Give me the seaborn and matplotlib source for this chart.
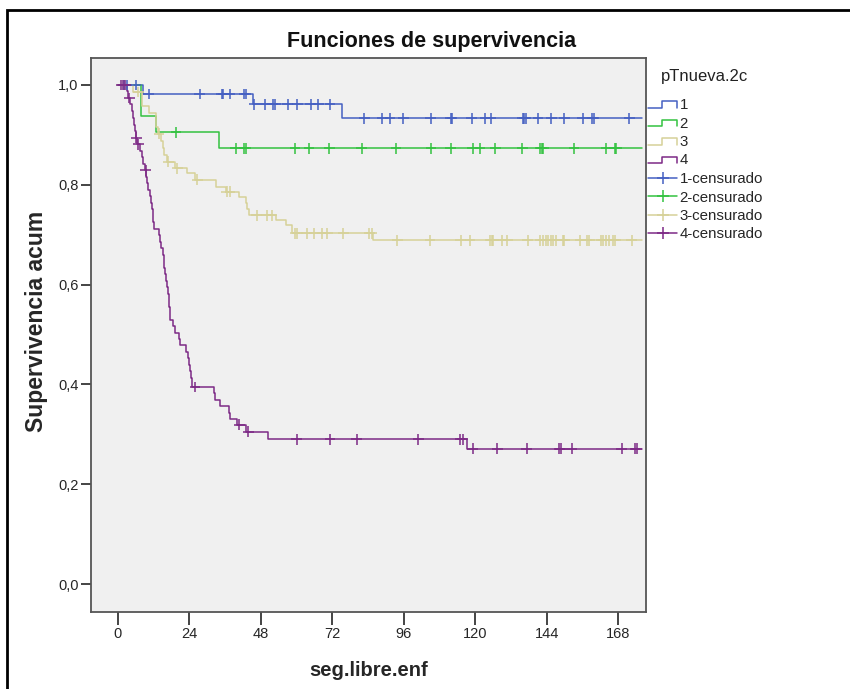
import matplotlib
matplotlib.use('Agg')
import matplotlib.pyplot as plt
import numpy as np
import pandas as pd
import seaborn as sns
from matplotlib.lines import Line2D
from matplotlib.legend_handler import HandlerBase
from matplotlib.ticker import FuncFormatter

sns.set_theme(style='white')
plt.rcParams['font.family'] = ['Liberation Sans', 'DejaVu Sans']

END_T = 176.0
groups = ['1', '2', '3', '4']
colors = {'1': '#4560c2', '2': '#33c240', '3': '#d6d198', '4': '#7d2a86'}

# event times and survival after each step
t1 = [8.3, 45.5, 75.2]
s1 = [0.982, 0.961, 0.933]
c1 = [2, 3, 6, 10.3, 27.5, 34.8, 35.4, 37.6, 42.3, 43, 45.8, 49.4, 52, 52.8, 57, 60.2,
      64.7, 67.3, 71.2, 82.7, 88.8, 91.4, 95.9, 105.1, 111.8, 112.2, 118.8, 123.4, 125.3,
      136, 136.5, 137.1, 141.1, 145.6, 150, 156.1, 159.3, 159.8, 171.8]

t2 = [7.8, 12.8, 34.1]
s2 = [0.937, 0.905, 0.873]
c2 = [19.5, 39.5, 42.3, 43, 59.5, 64.2, 71, 81.9, 93.4, 105.2, 111.8, 119.2, 121.6, 126.8,
      135.9, 141.9, 142.3, 142.9, 153.2, 164, 166.9, 167.4]

t3 = [5.0, 8.0, 10.5, 12.8, 13.5, 14.5, 15.0, 15.5, 16.3, 19.2, 23.2, 26.0, 32.8, 36.2,
      40.7, 42.9, 43.5, 44.0, 53.0, 56.4, 58.6, 85.8]
s3 = [0.986, 0.958, 0.944, 0.916, 0.902, 0.888, 0.874, 0.860, 0.846, 0.833, 0.823, 0.810,
      0.796, 0.786, 0.776, 0.763, 0.751, 0.739, 0.729, 0.719, 0.703, 0.689]
c3 = [6.8, 13.8, 16.9, 19.9, 26.7, 36.5, 37.6, 46.6, 50, 51.6, 59.5, 60.2, 63.4, 65.9, 68.6,
      70.3, 75.7, 84.4, 85.2, 93.9, 104.8, 115.1, 118.3, 125, 125.6, 126.1, 129.1, 130.8,
      137.6, 141.8, 142.9, 143.7, 144.6, 145.4, 146.3, 147.2, 149.4, 149.9, 155.2, 157.5,
      158.3, 162.3, 163.1, 164, 165.1, 166.4, 167.1, 172.6]

t4 = [3.0, 3.5, 4.2, 4.6, 5.0, 5.3, 5.6, 5.9, 6.5, 7.5, 8.0, 8.5, 9.0, 9.4, 9.8, 10.2, 10.6,
      11.0, 11.3, 11.6, 11.9, 12.2, 13.8, 14.2, 14.5, 15.0, 15.3, 15.6, 15.9, 16.2, 16.5,
      16.8, 17.0, 17.2, 17.4, 17.6, 18.6, 19.0, 20.6, 20.8, 23.0, 23.4, 23.8, 24.2, 24.5,
      25.0, 32.4, 32.6, 34.3, 37.4, 37.6, 39.9, 43.0, 50.3, 117.2]
s4 = [0.987, 0.974, 0.961, 0.947, 0.934, 0.920, 0.907, 0.894, 0.881, 0.868, 0.855, 0.842,
      0.829, 0.816, 0.803, 0.790, 0.777, 0.764, 0.751, 0.738, 0.725, 0.712, 0.699, 0.686,
      0.673, 0.660, 0.647, 0.634, 0.621, 0.608, 0.595, 0.582, 0.569, 0.556, 0.543, 0.530,
      0.517, 0.504, 0.491, 0.478, 0.465, 0.452, 0.439, 0.426, 0.413, 0.395, 0.382, 0.369,
      0.357, 0.343, 0.330, 0.319, 0.305, 0.290, 0.271]
c4 = [1.0, 1.8, 2.5, 3.8, 6.2, 6.8, 9.3, 25.9, 40.7, 43.8, 60, 71.2, 80.2, 100.9, 114.9,
      115.8, 119.2, 127.5, 137.3, 148.3, 148.8, 152.4, 169.2, 173.7, 174.3]

events = {'1': (t1, s1), '2': (t2, s2), '3': (t3, s3), '4': (t4, s4)}
censors = {'1': c1, '2': c2, '3': c3, '4': c4}

curve_rows, cens_rows = [], []
for g in groups:
    t, s = events[g]
    curve_rows.append((g, 0.0, 1.0))
    for ti, si in zip(t, s):
        curve_rows.append((g, ti, si))
    curve_rows.append((g, END_T, s[-1]))
    tt = np.array(t)
    ss = np.array(s)
    for c in censors[g]:
        k = np.searchsorted(tt, c, side='right')
        cens_rows.append((g, c, 1.0 if k == 0 else ss[k - 1]))
curves = pd.DataFrame(curve_rows, columns=['grupo', 'tiempo', 'surv'])
cens = pd.DataFrame(cens_rows, columns=['grupo', 'tiempo', 'surv'])

fig = plt.figure(figsize=(8.5, 6.89), dpi=100)
ax = fig.add_axes([91 / 850, 1 - 612 / 689, 555 / 850, 554 / 689])
ax.set_facecolor('#f0f0f0')

sns.lineplot(data=curves, x='tiempo', y='surv', hue='grupo', palette=colors,
             estimator=None, sort=False, drawstyle='steps-post', linewidth=1.1,
             legend=False, ax=ax)
sns.scatterplot(data=cens, x='tiempo', y='surv', hue='grupo', palette=colors,
                marker='+', s=60, linewidth=1.1, legend=False, ax=ax, zorder=3)

ax.set_xlim(-9.07, 177.4)
ax.set_ylim(-0.056, 1.054)
ax.set_xticks(np.arange(0, 169, 24))
ax.set_yticks([0.0, 0.2, 0.4, 0.6, 0.8, 1.0])
ax.yaxis.set_major_formatter(FuncFormatter(lambda v, p: f'{v:.1f}'.replace('.', ',')))
ax.tick_params(axis='x', length=9, width=1.4, color='#444444', pad=2, labelsize=10.5,
               bottom=True)
ax.tick_params(axis='y', length=7, width=1.4, color='#444444', pad=2, labelsize=10.5,
               left=True)
for sp in ax.spines.values():
    sp.set_color('#555555')
    sp.set_linewidth(1.3)
ax.set_xlabel('seg.libre.enf', fontsize=14.5, fontweight='bold', labelpad=14)
ax.set_ylabel('Supervivencia acum', fontsize=16.5, fontweight='bold')
ax.yaxis.set_label_coords(-0.078, 0.525)
fig.text(432 / 850, 1 - 41 / 689, 'Funciones de supervivencia', fontsize=15.5,
         fontweight='bold', ha='center', va='center', color='#111111')


class StepHandler(HandlerBase):
    def create_artists(self, legend, orig_handle, xdescent, ydescent, width, height,
                       fontsize, trans):
        x0, y0 = -xdescent, -ydescent
        lo, hi = y0 + 0.1 * height, y0 + 0.75 * height
        xs = [x0, x0 + 0.48 * width, x0 + 0.48 * width, x0 + width, x0 + width]
        ys = [lo, lo, hi, hi, lo]
        ln = Line2D(xs, ys, color=orig_handle.get_color(), lw=1.1, transform=trans)
        return [ln]


step_handles = [Line2D([], [], color=colors[g]) for g in groups]
cens_handles = [Line2D([], [], color=colors[g], lw=1.1, marker='+', markersize=9,
                       markeredgewidth=1.1) for g in groups]
handler_map = {h: StepHandler() for h in step_handles}
fig.legend(step_handles + cens_handles, groups + [f'{g}-censurado' for g in groups],
           handler_map=handler_map, loc='upper left', bbox_to_anchor=(648 / 850, 1 - 98 / 689),
           frameon=False, fontsize=10.8, labelspacing=0.3, handlelength=1.95,
           handletextpad=0.15, borderpad=0, borderaxespad=0, numpoints=1)
fig.text(661 / 850, 1 - 77 / 689, 'pTnueva.2c', fontsize=12, ha='left', va='center',
         color='#222222')

fig.patches.append(plt.Rectangle((7 / 850, -0.2), 1.5, 1.2 - 10 / 689 + 0.0,
                                 fill=False, edgecolor='black', lw=2,
                                 transform=fig.transFigure, figure=fig))

fig.savefig('out.png', dpi=100)
